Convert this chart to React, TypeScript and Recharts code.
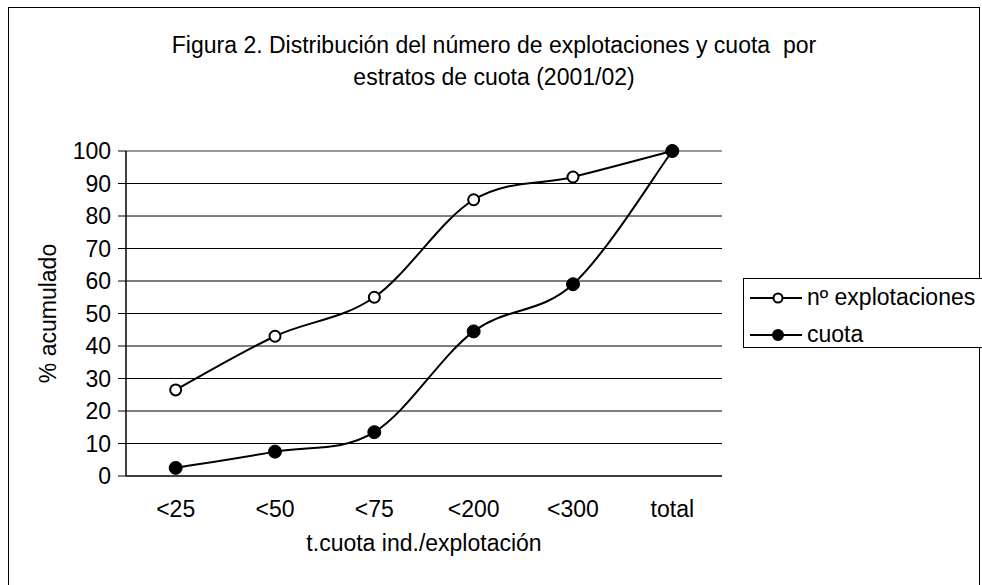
import React from 'react';
import { LineChart, Line, XAxis, YAxis, CartesianGrid, Legend, ReferenceLine } from 'recharts';

const categories = ['<25', '<50', '<75', '<200', '<300', 'total'];
const explotaciones = [26.5, 43, 55, 85, 92, 100];
const cuota = [2.5, 7.5, 13.5, 44.5, 59, 100];
const yTicks = [0, 10, 20, 30, 40, 50, 60, 70, 80, 90, 100];
const seriesNames = ['nº explotaciones', 'cuota'];
const titleLines = ['Figura 2. Distribución del número de explotaciones y cuota  por', 'estratos de cuota (2001/02)'];
const xTitle = 't.cuota ind./explotación';
const yTitle = '% acumulado';

const data = categories.map((c, i) => ({ cat: c, expl: explotaciones[i], cuota: cuota[i] }));
const boundaryTicks = categories.map((_, i) => i).concat(categories.length);
const gridValues = yTicks.slice(0, -1);

const FONT = '"Liberation Sans", Arial, Helvetica, sans-serif';
const FS = 23;

function excelCurve(context: any) {
  let pts: number[][] = [];
  return {
    areaStart() {},
    areaEnd() {},
    lineStart() {
      pts = [];
    },
    lineEnd() {
      const n = pts.length;
      if (!n) return;
      context.moveTo(pts[0][0], pts[0][1]);
      for (let i = 0; i < n - 1; i++) {
        const p0 = pts[Math.max(0, i - 1)];
        const p1 = pts[i];
        const p2 = pts[i + 1];
        const p3 = pts[Math.min(n - 1, i + 2)];
        context.bezierCurveTo(
          p1[0] + (p2[0] - p0[0]) / 6,
          p1[1] + (p2[1] - p0[1]) / 6,
          p2[0] - (p3[0] - p1[0]) / 6,
          p2[1] - (p3[1] - p1[1]) / 6,
          p2[0],
          p2[1]
        );
      }
    },
    point(x: number, y: number) {
      pts.push([+x, +y]);
    },
  };
}

const renderLegend = (props: any) => {
  const payload = [...(props.payload || [])].sort(
    (a: any, b: any) => seriesNames.indexOf(a.value) - seriesNames.indexOf(b.value)
  );
  return (
    <div style={{ fontFamily: FONT }}>
      {payload.map((entry: any) => {
        const filled = entry.dataKey === 'cuota';
        return (
          <div key={entry.value} style={{ display: 'flex', alignItems: 'center', height: 37 }}>
            <svg width={57} height={20} style={{ marginLeft: 6, display: 'block' }}>
              <line x1={0} y1={10} x2={52} y2={10} stroke="#000" strokeWidth={2} />
              <circle cx={28} cy={10} r={filled ? 5 : 4.5} fill={filled ? '#000' : '#fff'} stroke="#000" strokeWidth={2} />
            </svg>
            <span style={{ fontSize: FS, color: '#000', whiteSpace: 'nowrap' }}>{entry.value}</span>
          </div>
        );
      })}
    </div>
  );
};

export default function App() {
  return (
    <div style={{ position: 'absolute', left: 0, top: 0, width: 982, height: 585, overflow: 'hidden', background: '#fff', fontFamily: FONT }}>
      <div
        style={{
          position: 'absolute',
          left: 8,
          top: 7,
          width: 970,
          height: 700,
          borderLeft: '1px solid #000',
          borderTop: '1px solid #000',
          borderRight: '1px solid #000',
        }}
      />
      <div
        style={{
          position: 'absolute',
          left: 8,
          top: 29,
          width: 972,
          textAlign: 'center',
          fontSize: FS,
          lineHeight: '32px',
          color: '#000',
          whiteSpace: 'pre',
        }}
      >
        {titleLines.map((t) => (
          <div key={t}>{t}</div>
        ))}
      </div>
      <div style={{ position: 'absolute', left: 0, top: 0 }}>
        <LineChart width={982} height={585} data={data} margin={{ top: 151, right: 260, left: 0, bottom: 0 }}>
          <CartesianGrid vertical={false} stroke="#000" strokeWidth={1} horizontalValues={gridValues} />
          <XAxis
            xAxisId="ticks"
            type="number"
            domain={[0, categories.length]}
            ticks={boundaryTicks}
            allowDataOverflow
            tick={false}
            tickLine={{ stroke: '#000', strokeWidth: 1 }}
            tickSize={7}
            axisLine={false}
            height={0}
          />
          <XAxis
            dataKey="cat"
            type="category"
            scale="band"
            height={109}
            tickLine={false}
            tickSize={0}
            tickMargin={25}
            axisLine={{ stroke: '#000', strokeWidth: 1 }}
            tick={{ fill: '#000', fontSize: FS, fontFamily: FONT }}
            label={{ value: xTitle, position: 'insideBottom', offset: 34, fill: '#000', fontSize: FS, fontFamily: FONT }}
          />
          <YAxis
            width={126}
            domain={[0, 100]}
            ticks={yTicks}
            interval={0}
            tickSize={8}
            tickMargin={7}
            tickLine={{ stroke: '#000', strokeWidth: 1 }}
            axisLine={{ stroke: '#000', strokeWidth: 1.5 }}
            tick={{ fill: '#000', fontSize: FS, fontFamily: FONT }}
            label={{
              value: yTitle,
              angle: -90,
              position: 'insideLeft',
              offset: 48,
              fill: '#000',
              fontSize: FS,
              fontFamily: FONT,
              style: { textAnchor: 'middle' },
            }}
          />
          <ReferenceLine y={100} stroke="#999" strokeWidth={2} />
          <ReferenceLine x={categories.length} xAxisId="ticks" stroke="#999" strokeWidth={2} />
          <Legend
            layout="horizontal"
            verticalAlign="middle"
            align="center"
            content={renderLegend}
            wrapperStyle={{
              left: 743,
              top: 278,
              width: 260,
              height: 70,
              border: '1px solid #000',
              boxSizing: 'border-box',
              background: '#fff',
            }}
          />
          <Line
            dataKey="expl"
            name={seriesNames[0]}
            type={excelCurve as any}
            stroke="#000"
            strokeWidth={2}
            dot={{ r: 5.5, stroke: '#000', strokeWidth: 2, fill: '#fff' }}
            activeDot={false}
            isAnimationActive={false}
          />
          <Line
            dataKey="cuota"
            name={seriesNames[1]}
            type={excelCurve as any}
            stroke="#000"
            strokeWidth={2}
            dot={{ r: 6.5, stroke: '#000', strokeWidth: 1, fill: '#000' }}
            activeDot={false}
            isAnimationActive={false}
          />
        </LineChart>
      </div>
    </div>
  );
}
